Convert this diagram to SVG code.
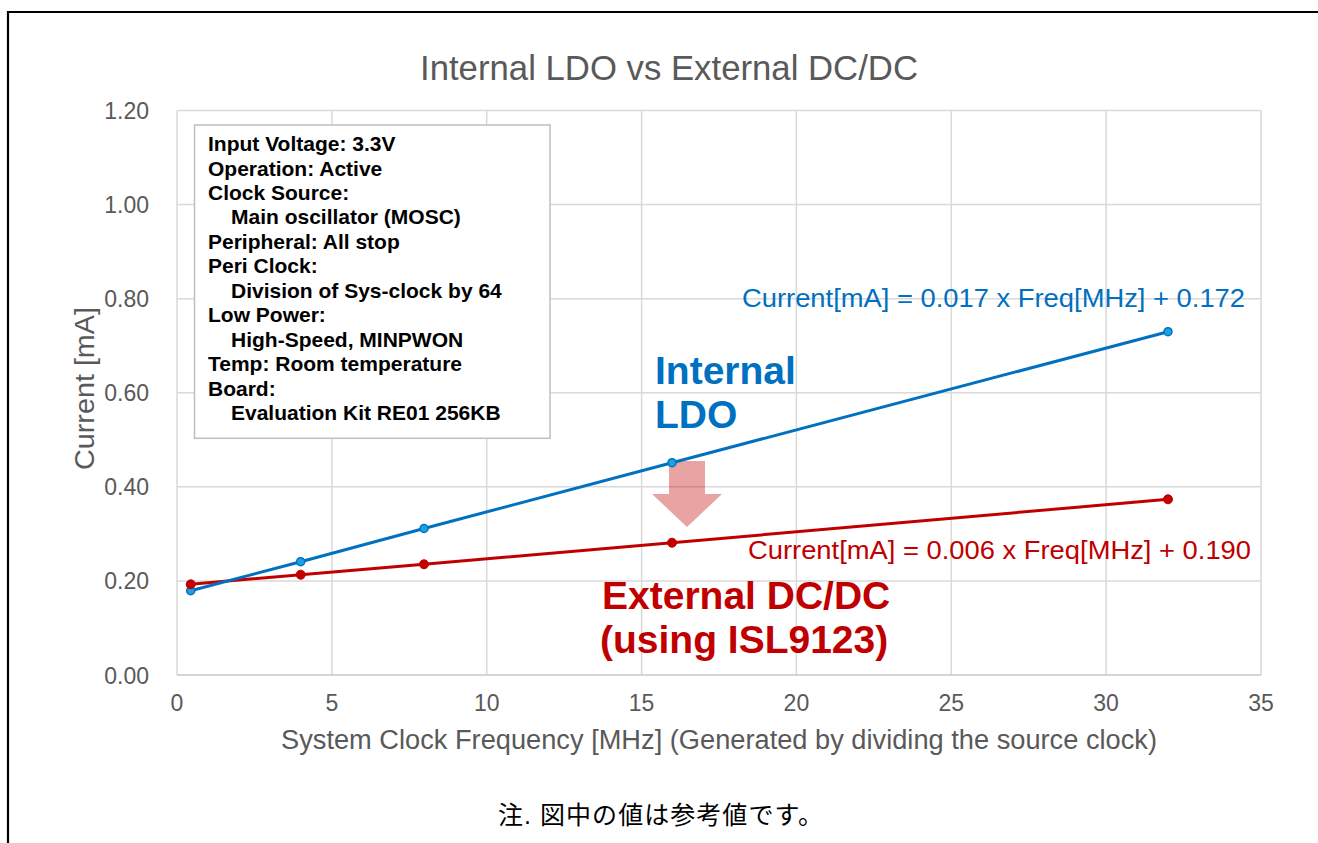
<svg xmlns="http://www.w3.org/2000/svg" width="1318" height="843" viewBox="0 0 1318 843">
<style>
.ax{font-family:"Liberation Sans",Arial,sans-serif;fill:#595959;font-size:23px}
.grid{stroke:#D9D9D9;stroke-width:1.5;fill:none}
.leg{font-family:"Liberation Sans",Arial,sans-serif;font-weight:bold;font-size:21px;fill:#000}
.big{font-family:"Liberation Sans",Arial,sans-serif;font-weight:bold;font-size:39px}
.eq{font-family:"Liberation Sans",Arial,sans-serif;font-size:26px}
.bl{stroke:#0070C0;stroke-width:3;fill:none;stroke-linejoin:round}
.rd{stroke:#C00000;stroke-width:3;fill:none;stroke-linejoin:round}
.bm{fill:#1AA3E0;stroke:#0070C0;stroke-width:1.5}
.rm{fill:#C00000;stroke:#C00000;stroke-width:1}
</style>
<rect width="1318" height="843" fill="#fff"/>
<path d="M8,843 V12 H1318" fill="none" stroke="#000" stroke-width="2.2"/>
<text x="669" y="79.5" class="ax" style="font-size:35px" text-anchor="middle" textLength="498" lengthAdjust="spacingAndGlyphs">Internal LDO vs External DC/DC</text>
<g id="gridlines">
<path class="grid" d="M177,110.5H1261M177,204.6H1261M177,298.7H1261M177,392.75H1261M177,486.8H1261M177,580.9H1261"/>
<path class="grid" d="M177,110.5V675M331.9,110.5V675M486.7,110.5V675M641.6,110.5V675M796.4,110.5V675M951.3,110.5V675M1106.1,110.5V675M1261,110.5V675"/>
<path d="M177,675H1261" stroke="#C8C8C8" stroke-width="1.5"/>
</g>
<g id="y-axis" class="ax" text-anchor="end">
<text x="149" y="119">1.20</text>
<text x="149" y="213">1.00</text>
<text x="149" y="307">0.80</text>
<text x="149" y="401">0.60</text>
<text x="149" y="495">0.40</text>
<text x="149" y="589">0.20</text>
<text x="149" y="683.5">0.00</text>
</g>
<text class="ax" style="font-size:27.5px" text-anchor="middle" transform="translate(93.5,388.5) rotate(-90)" textLength="163" lengthAdjust="spacingAndGlyphs">Current [mA]</text>
<g id="x-axis" class="ax" text-anchor="middle">
<text x="177" y="711">0</text>
<text x="331.9" y="711">5</text>
<text x="486.7" y="711">10</text>
<text x="641.6" y="711">15</text>
<text x="796.4" y="711">20</text>
<text x="951.3" y="711">25</text>
<text x="1106.1" y="711">30</text>
<text x="1261" y="711">35</text>
</g>
<text x="719" y="748.5" class="ax" style="font-size:27px" text-anchor="middle" textLength="876" lengthAdjust="spacingAndGlyphs">System Clock Frequency [MHz]  (Generated by dividing the source clock)</text>
<g id="legend-box">
<rect x="194.5" y="125" width="355.5" height="313.3" fill="#fff" stroke="#BFBFBF" stroke-width="1.5"/>
<g class="leg">
<text x="208" y="151">Input Voltage: 3.3V</text>
<text x="208" y="175.5">Operation: Active</text>
<text x="208" y="200">Clock Source:</text>
<text x="231" y="224.3">Main oscillator (MOSC)</text>
<text x="208" y="248.8">Peripheral: All stop</text>
<text x="208" y="273.2">Peri Clock:</text>
<text x="231" y="297.7">Division of Sys-clock by 64</text>
<text x="208" y="322.1">Low Power:</text>
<text x="231" y="346.6">High-Speed, MINPWON</text>
<text x="208" y="371">Temp: Room temperature</text>
<text x="208" y="395.5">Board:</text>
<text x="231" y="420">Evaluation Kit RE01 256KB</text>
</g>
</g>
<g id="arrow">
<polygon points="669,461 705,461 705,494 722,494 687,527 652,494 669,494" fill="#C00000" fill-opacity="0.36"/>
</g>
<g id="series">
<polyline class="rd" points="190.7,584.3 300.7,574.7 424,564.3 672,542.7 1168,499.3"/>
<polyline class="bl" points="190.7,590.7 300.7,561.7 424,528.5 672,462.7 1168,331.7"/>
<g id="ldo-markers">
<circle class="bm" cx="190.7" cy="590.7" r="4"/>
<circle class="bm" cx="300.7" cy="561.7" r="4"/>
<circle class="bm" cx="424" cy="528.5" r="4"/>
<circle class="bm" cx="672" cy="462.7" r="4"/>
<circle class="bm" cx="1168" cy="331.7" r="4"/>
</g>
<g id="dcdc-markers">
<circle class="rm" cx="190.7" cy="584.3" r="4.5"/>
<circle class="rm" cx="300.7" cy="574.7" r="4.5"/>
<circle class="rm" cx="424" cy="564.3" r="4.5"/>
<circle class="rm" cx="672" cy="542.7" r="4.5"/>
<circle class="rm" cx="1168" cy="499.3" r="4.5"/>
</g>
</g>
<g id="label-ldo">
<text class="big" fill="#0070C0" x="655" y="384">Internal</text>
<text class="big" fill="#0070C0" x="655" y="428">LDO</text>
<text class="eq" fill="#0070C0" x="742" y="307" textLength="503" lengthAdjust="spacingAndGlyphs">Current[mA] = 0.017 x Freq[MHz] + 0.172</text>
</g>
<g id="label-dcdc">
<text class="big" fill="#C00000" x="602" y="609">External DC/DC</text>
<text class="big" fill="#C00000" x="600" y="653">(using ISL9123)</text>
<text class="eq" fill="#C00000" x="748" y="559" textLength="503" lengthAdjust="spacingAndGlyphs">Current[mA] = 0.006 x Freq[MHz] + 0.190</text>
</g>
<text x="660.5" y="824" font-family="'Liberation Sans','Noto Sans CJK JP',sans-serif" font-size="25" fill="#000" text-anchor="middle" textLength="325" lengthAdjust="spacing">注. 図中の値は参考値です。</text>
</svg>
